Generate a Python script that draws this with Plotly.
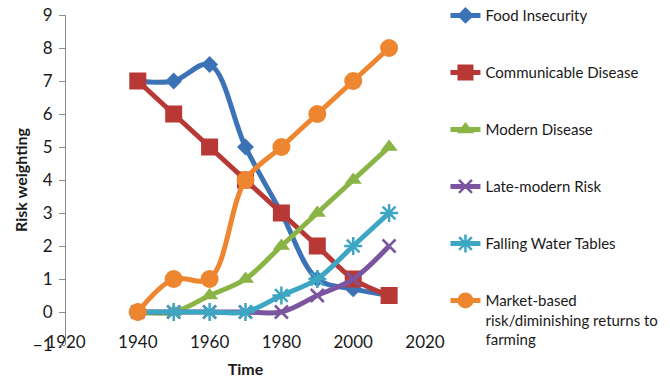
import plotly.graph_objects as go

# Decades on the time axis
years = [1940, 1950, 1960, 1970, 1980, 1990, 2000, 2010]

# Risk weighting per series
food_insecurity = [7, 7, 7.5, 5, 3, 1, 0.7, 0.5]
communicable_disease = [7, 6, 5, 4, 3, 2, 1, 0.5]
modern_disease = [0, 0, 0.5, 1, 2, 3, 4, 5]
late_modern_risk = [0, 0, 0, 0, 0, 0.5, 1, 2]
falling_water_tables = [0, 0, 0, 0, 0.5, 1, 2, 3]
market_based_risk = [0, 1, 1, 4, 5, 6, 7, 8]

series_names = [
    "Food Insecurity",
    "Communicable Disease",
    "Modern Disease",
    "Late-modern Risk",
    "Falling Water Tables",
    "Market-based<br>risk/diminishing returns to<br>farming",
]
series_values = [
    food_insecurity,
    communicable_disease,
    modern_disease,
    late_modern_risk,
    falling_water_tables,
    market_based_risk,
]
colors = ["#3C72B6", "#B83835", "#8AB445", "#7B559F", "#3DA6C3", "#EE8630"]
symbols = ["diamond", "square", "triangle-up", "x-thin", "asterisk", "circle"]
sizes = [13, 17, 15, 13, 15, 18]

y_ticks = [-1, 0, 1, 2, 3, 4, 5, 6, 7, 8, 9]
x_ticks = [1920, 1940, 1960, 1980, 2000, 2020]

font_family = "Lato, 'Open Sans', sans-serif"
axis_grey = "#8C8C8C"

fig = go.Figure()
for i, (name, vals, col, sym, sz) in enumerate(
    zip(series_names, series_values, colors, symbols, sizes)
):
    thin = sym in ("x-thin", "asterisk")
    fig.add_trace(
        go.Scatter(
            x=years,
            y=vals,
            name=name,
            legendgroup=f"g{i}",
            mode="lines+markers",
            line=dict(color=col, width=5, shape="spline", smoothing=1),
            marker=dict(
                symbol=sym,
                size=sz,
                color=col,
                line=dict(color=col, width=2.5 if thin else 0),
            ),
        )
    )

fig.update_layout(
    width=670,
    height=382,
    margin=dict(l=66, r=245, t=15, b=37, autoexpand=False),
    paper_bgcolor="white",
    plot_bgcolor="white",
    font=dict(family=font_family, color="#1A1A1A"),
    xaxis=dict(
        range=[1920, 2020],
        tickvals=x_ticks,
        showgrid=False,
        zeroline=False,
        showline=False,
        ticks="",
        tickfont=dict(size=17),
        ticklabelstandoff=-15,
        title=dict(text="<b>Time</b>", font=dict(size=16), standoff=12),
    ),
    xaxis2=dict(
        range=[1920, 2020],
        tickvals=x_ticks,
        overlaying="x",
        anchor="free",
        position=0.1,
        showline=True,
        linecolor=axis_grey,
        linewidth=1,
        ticks="outside",
        ticklen=5,
        tickcolor=axis_grey,
        showticklabels=False,
        showgrid=False,
        zeroline=False,
    ),
    yaxis=dict(
        range=[-1, 9],
        tickvals=y_ticks,
        showgrid=False,
        zeroline=False,
        showline=True,
        linecolor=axis_grey,
        linewidth=1,
        ticks="outside",
        ticklen=6,
        tickcolor=axis_grey,
        tickfont=dict(size=17),
        ticklabelstandoff=3,
        title=dict(text="<b>Risk weighting</b>", font=dict(size=16), standoff=1),
    ),
    legend=dict(
        x=1.057,
        xanchor="left",
        y=1.048,
        yanchor="top",
        font=dict(size=15, color="#1A1A1A"),
        tracegroupgap=34.5,
        valign="top",
        itemwidth=30,
        maxheight=380,
        bgcolor="rgba(0,0,0,0)",
    ),
)

fig.write_html("out.html")
